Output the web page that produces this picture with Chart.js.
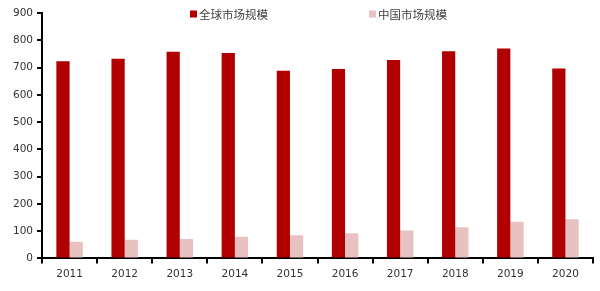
<!DOCTYPE html>
<html>
<head>
<meta charset="utf-8">
<script src="https://cdn.jsdelivr.net/npm/chart.js@4/dist/chart.umd.min.js"></script>
<style>
html,body{margin:0;padding:0;background:#fff;}
#wrap{width:600px;height:291px;position:relative;}
</style>
</head>
<body>
<div id="wrap"><canvas id="c"></canvas></div>
<script>
const categories = ['2011','2012','2013','2014','2015','2016','2017','2018','2019','2020'];
const globalMarket = [723, 732, 758, 753, 688, 695, 728, 760, 770, 696];
const chinaMarket = [61, 68, 71, 79, 85, 92, 102, 114, 134, 144];
const seriesNames = ['全球市场规模', '中国市场规模'];
const yTicks = [0,100,200,300,400,500,600,700,800,900];

const legendPlugin = {
  id: 'customLegend',
  afterDraw(chart) {
    const ctx = chart.ctx;
    const xs = [190, 369];
    const y = 14;
    ctx.save();
    ctx.font = '11.5px "Noto Sans CJK SC", sans-serif';
    ctx.textBaseline = 'middle';
    ctx.textAlign = 'left';
    chart.data.datasets.forEach((ds, i) => {
      ctx.fillStyle = ds.backgroundColor;
      ctx.fillRect(xs[i], y - 3.5, 7, 7);
      ctx.fillStyle = '#404040';
      ctx.fillText(ds.label, xs[i] + 9, y + 0.5);
    });
    ctx.restore();
  }
};

new Chart(document.getElementById('c'), {
  type: 'bar',
  data: {
    labels: categories,
    datasets: [
      { label: seriesNames[0], data: globalMarket, backgroundColor: '#B00000', borderWidth: 0 },
      { label: seriesNames[1], data: chinaMarket, backgroundColor: '#E8C1C1', borderWidth: 0 }
    ]
  },
  options: {
    responsive: true,
    maintainAspectRatio: false,
    animation: false,
    devicePixelRatio: 1,
    layout: { padding: { left: 9, right: 7, top: 13, bottom: 5 } },
    plugins: { legend: { display: false }, tooltip: { enabled: false } },
    datasets: { bar: { categoryPercentage: 0.48, barPercentage: 1.0 } },
    scales: {
      x: {
        grid: { display: true, offset: true, drawOnChartArea: false, tickLength: 5, color: '#000', lineWidth: 2 },
        border: { display: true, color: '#000', width: 2 },
        ticks: { color: '#333', font: { family: 'DejaVu Sans', size: 10.5 }, padding: 5, maxRotation: 0 }
      },
      y: {
        min: 0, max: 900,
        afterBuildTicks(axis) { axis.ticks = yTicks.map(v => ({ value: v })); },
        grid: { display: true, drawOnChartArea: false, tickLength: 5, color: '#000', lineWidth: 2 },
        border: { display: true, color: '#000', width: 2 },
        ticks: { color: '#333', font: { family: 'DejaVu Sans', size: 10.5 }, padding: 4 }
      }
    }
  },
  plugins: [legendPlugin]
});
</script>
</body>
</html>
